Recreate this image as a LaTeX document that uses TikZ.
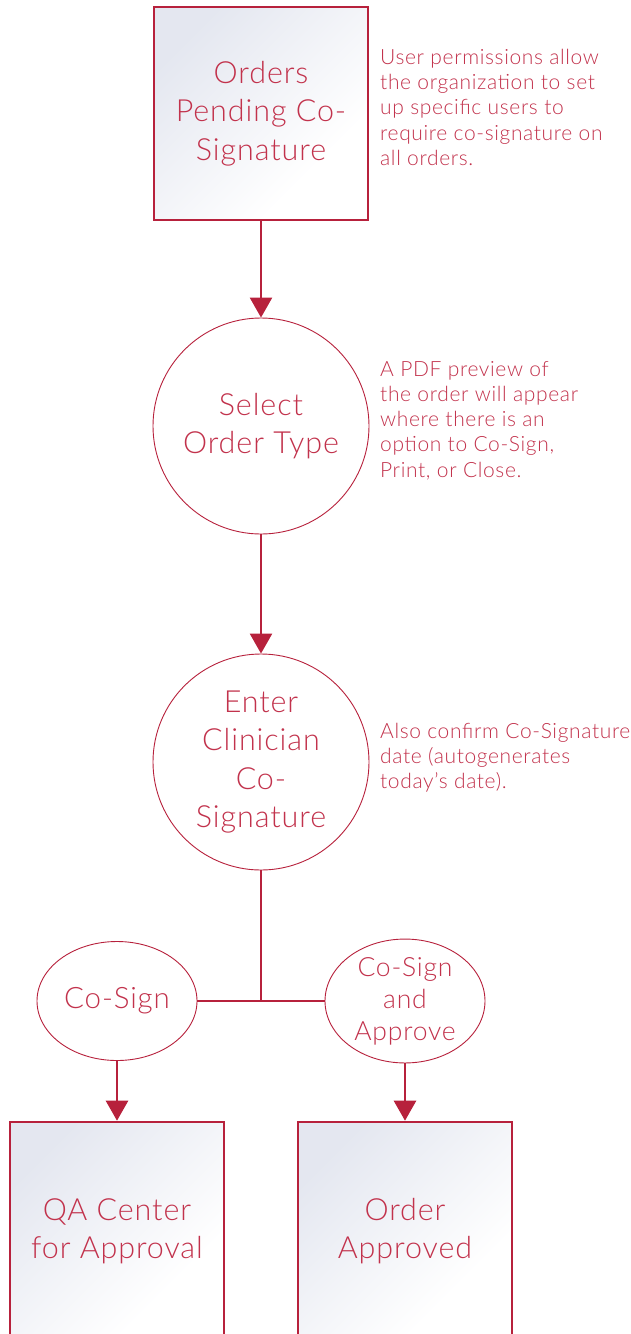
\documentclass[tikz,border=0pt]{standalone}
\usepackage{fontspec}
\setmainfont{Lato Light}[LetterSpace=3]
\usetikzlibrary{arrows.meta,shapes.geometric}
\definecolor{crimson}{HTML}{B7213C}
\definecolor{inktext}{HTML}{C2324C}
\definecolor{boxtint}{HTML}{E4E7F0}
% pale tint in one corner fading smoothly to white
\pgfdeclareverticalshading{paneltint}{100bp}{color(0bp)=(white); color(25bp)=(white); color(32bp)=(white); color(75bp)=(boxtint); color(100bp)=(boxtint)}
\tikzset{
  x=1pt, y=-1pt,
  flow/.style={draw=crimson, line width=2.6pt},
  arrowline/.style={flow, -{Triangle[width=22pt,length=20pt]}},
  panel/.style={draw=crimson, line width=2.6pt, shading=paneltint, shading angle=45,
    minimum width=214pt, minimum height=213pt, inner sep=0pt},
  bubble/.style={circle, draw=crimson, line width=0.9pt, fill=white,
    minimum size=216pt, inner sep=0pt},
  choice/.style={ellipse, draw=crimson, line width=0.9pt, fill=white,
    minimum width=160pt, minimum height=119pt, inner sep=0pt},
  bigtext/.style={text=inktext, font=\fontsize{30.5}{38.3}\selectfont, align=center},
  midtext/.style={text=inktext, font=\fontsize{26.5}{32}\selectfont, align=center},
  note/.style={text=inktext, font=\fontsize{21}{25.2}\selectfont, align=left,
    anchor=north west, inner sep=0pt},
}
\begin{document}
\begin{tikzpicture}
\useasboundingbox (0,0) rectangle (631,1334);
\begin{scope}
\clip (0,0) rectangle (631,1334);

% process boxes and steps
\node[panel, bigtext] (pending) at (261,113.5) {Orders\\Pending Co-\\Signature};
\node[bubble, bigtext] (select) at (261,426) {Select\\Order Type};
\node[bubble, bigtext] (enter) at (261,762) {Enter\\Clinician\\Co-\\Signature};
\node[choice, midtext, font=\fontsize{29.5}{32}\selectfont] (cosign) at (117,1001) {Co-Sign};
\node[choice, midtext] (approve) at (405,1001) {Co-Sign\\and\\Approve};
\node[panel, bigtext, minimum height=218pt] (qa) at (117,1231) {QA Center\\for Approval};
\node[panel, bigtext, minimum height=218pt] (done) at (405,1231) {Order\\Approved};

% notes
\node[note] (n1) at (380,49) {User permissions allow\\the organization to set\\up specific users to\\require co-signature on\\all orders.};
\node[note] (n2) at (380,361) {A PDF preview of\\the order will appear\\where there is an\\option to Co-Sign,\\Print, or Close.};
\node[note] (n3) at (380,723) {Also confirm Co-Signature\\date (autogenerates\\today’s date).};

% connectors
\draw[arrowline] (pending.south) -- (select.north);
\draw[arrowline] (select.south) -- (enter.north);
\coordinate (split) at (261,1001);
\draw[flow] (enter.south) -- (split);
\draw[flow] (cosign.east) -- (approve.west);
\draw[arrowline] (cosign.south) -- (qa.north);
\draw[arrowline] (approve.south) -- (done.north);
\end{scope}
\end{tikzpicture}
\end{document}
